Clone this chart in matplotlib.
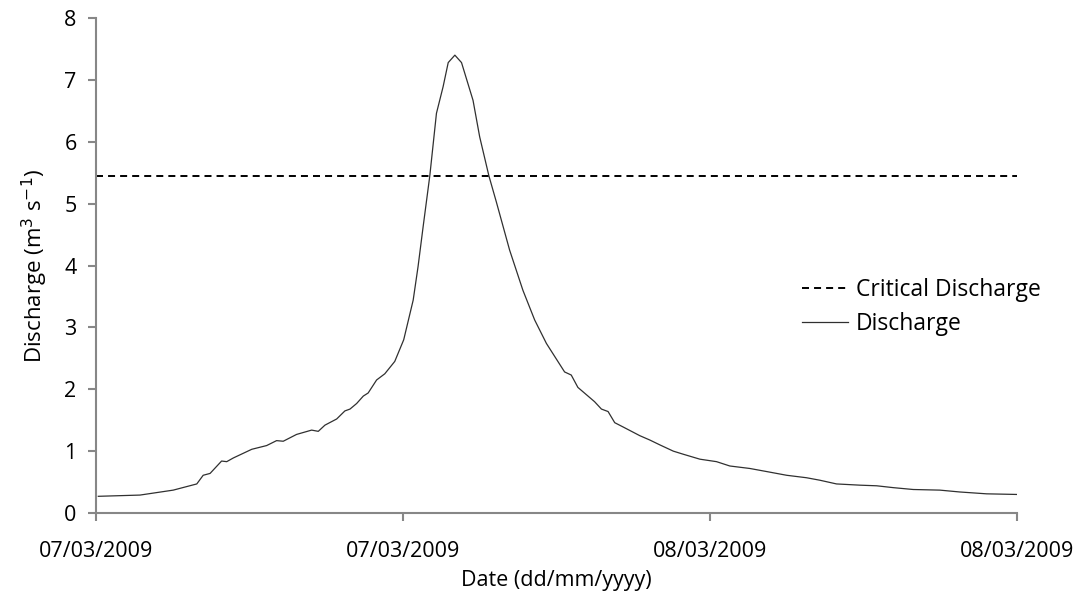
import matplotlib
matplotlib.use('Agg')
import matplotlib.pyplot as plt

plt.rcParams['font.family'] = ['Open Sans', 'DejaVu Sans']

# hours since first tick (07/03/2009 00:00), ticks every 12 h
hours = [0.09, 1.72, 3.02, 3.94, 4.19, 4.46, 4.91, 5.11, 5.37, 6.09,
         6.67, 7.06, 7.32, 7.84, 8.43, 8.69, 8.95, 9.41, 9.73, 9.93,
         10.19, 10.45, 10.64, 10.97, 11.29, 11.68, 12.03, 12.40, 12.59, 12.79,
         13.05, 13.31, 13.57, 13.77, 14.03, 14.29, 14.74, 15.00, 15.36, 15.65,
         16.17, 16.69, 17.15, 17.61, 18.32, 18.58, 18.84, 19.49, 19.76, 20.02,
         20.28, 20.61, 21.26, 21.65, 22.05, 22.57, 22.96, 23.61, 24.26, 24.78,
         25.56, 26.22, 27.00, 27.78, 28.30, 28.95, 29.87, 30.52, 31.17, 31.95,
         32.99, 33.77, 34.82, 36.00]
discharge = [0.27, 0.29, 0.37, 0.47, 0.61, 0.64, 0.84, 0.83, 0.89, 1.03,
             1.09, 1.17, 1.16, 1.27, 1.34, 1.32, 1.42, 1.52, 1.65, 1.68,
             1.77, 1.89, 1.94, 2.15, 2.25, 2.45, 2.80, 3.44, 3.98, 4.63,
             5.45, 6.46, 6.89, 7.28, 7.40, 7.28, 6.67, 6.08, 5.45, 5.03,
             4.25, 3.60, 3.12, 2.74, 2.28, 2.23, 2.03, 1.80, 1.68, 1.64,
             1.46, 1.39, 1.25, 1.18, 1.10, 1.00, 0.95, 0.87, 0.83, 0.76,
             0.72, 0.67, 0.61, 0.57, 0.53, 0.47, 0.45, 0.44, 0.41, 0.38,
             0.37, 0.34, 0.31, 0.30]
critical = 5.44

tick_pos = [0, 12, 24, 36]
tick_labels = ['07/03/2009', '07/03/2009', '08/03/2009', '08/03/2009']

fs = 15.5

fig = plt.figure(figsize=(10.91, 6.01), dpi=100)
ax = fig.add_axes([0.088, 0.1464, 0.844, 0.8236])

ax.axhline(critical, color='black', lw=1.4, ls=(0, (3.6, 2.6)), label='Critical Discharge')
ax.plot(hours, discharge, color='#303030', lw=0.9, label='Discharge')

ax.set_xlim(0, 36)
ax.set_ylim(0, 8)
ax.set_xticks(tick_pos)
ax.set_xticklabels(tick_labels)
ax.set_yticks(range(0, 9))

grey = '#878787'
for s in ['top', 'right']:
    ax.spines[s].set_visible(False)
for s in ['left', 'bottom']:
    ax.spines[s].set_color(grey)
    ax.spines[s].set_linewidth(1.5)
ax.tick_params(axis='both', colors=grey, width=1.5, length=6, labelcolor='black', labelsize=fs)
ax.tick_params(axis='x', pad=14)
ax.tick_params(axis='y', pad=8)

ax.set_xlabel('Date (dd/mm/yyyy)', fontsize=fs, labelpad=6)
ax.set_ylabel('Discharge (m$^3$ s$^{-1}$)', fontsize=fs + 0.5, labelpad=10)

ax.legend(loc='upper left', bbox_to_anchor=(0.767, 0.475), frameon=False, fontsize=16.5,
          borderpad=0, borderaxespad=0, handlelength=2.0, handletextpad=0.35,
          labelspacing=0.42)

fig.savefig('out.png', dpi=100)
